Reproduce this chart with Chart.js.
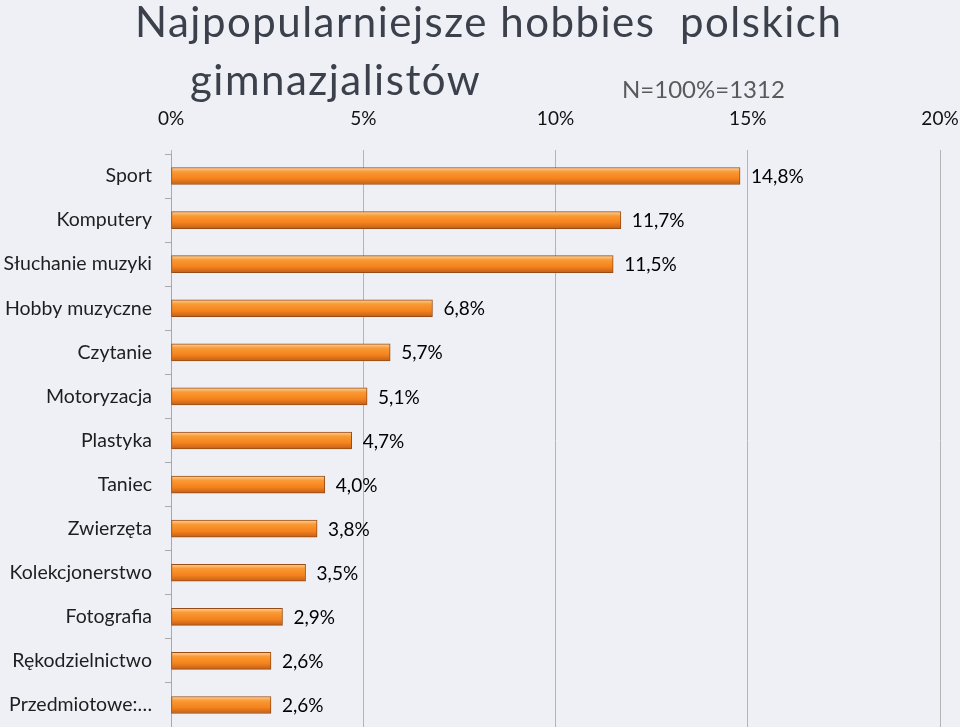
<!DOCTYPE html>
<html lang="pl">
<head>
<meta charset="UTF-8">
<title>Najpopularniejsze hobbies polskich gimnazjalistów</title>
<script src="https://cdn.jsdelivr.net/npm/chart.js"></script>
<style>
  body { margin: 0; background: #eef0f6; font-family: Lato, sans-serif; }
  #wrap { position: relative; width: 960px; height: 727px; overflow: hidden; }
  #chart { position: absolute; left: 0; top: 0; }
  .t { position: absolute; white-space: pre; color: #3b404b; font-size: 42px; letter-spacing: 1.5px; line-height: 1; }
  #t1 { left: 135px; top: 0px; }
  #t2 { left: 190px; top: 58px; }
  #note { position: absolute; left: 622px; top: 74px; font-size: 24px; color: #5a5a5a; white-space: pre; }
</style>
</head>
<body>
<div id="wrap">
  <canvas id="chart" width="960" height="727"></canvas>
  <div class="t" id="t1">Najpopularniejsze hobbies  polskich</div>
  <div class="t" id="t2">gimnazjalistów</div>
  <div id="note">N=100%=1312</div>
</div>

<script>
const categories = ['Sport', 'Komputery', 'Słuchanie muzyki', 'Hobby muzyczne', 'Czytanie',
  'Motoryzacja', 'Plastyka', 'Taniec', 'Zwierzęta', 'Kolekcjonerstwo', 'Fotografia',
  'Rękodzielnictwo', 'Przedmiotowe:…'];
const shares = [14.8, 11.7, 11.5, 6.8, 5.7, 5.1, 4.7, 4.0, 3.8, 3.5, 2.9, 2.6, 2.6];
const xTicks = [0, 5, 10, 15, 20];

const fmt = v => v.toFixed(1).replace('.', ',') + '%';

// value labels to the right of each bar
const barLabels = {
  id: 'barLabels',
  afterDatasetsDraw(chart) {
    const ctx = chart.ctx;
    ctx.save();
    ctx.font = '19px Lato';
    ctx.fillStyle = '#000';
    ctx.textAlign = 'left';
    ctx.textBaseline = 'middle';
    chart.getDatasetMeta(0).data.forEach((bar, i) => {
      ctx.fillText(fmt(shares[i]), bar.x + 11, bar.y + 1);
    });
    ctx.restore();
  }
};

function barFill(c) {
  const chart = c.chart;
  const y = chart.scales && chart.scales.y;
  if (!y || c.dataIndex === undefined) return '#f58220';
  const cy = y.getPixelForValue(c.dataIndex);
  if (!isFinite(cy)) return '#f58220';
  const g = chart.ctx.createLinearGradient(0, cy - 8.5, 0, cy + 8.5);
  g.addColorStop(0, '#fbd3a0');
  g.addColorStop(0.25, '#f99a34');
  g.addColorStop(0.65, '#f5821c');
  g.addColorStop(1, '#c0601a');
  return g;
}

new Chart(document.getElementById('chart'), {
  type: 'bar',
  data: {
    labels: categories,
    datasets: [{
      data: shares,
      backgroundColor: barFill,
      borderColor: '#9a4b14',
      borderWidth: 1,
      borderSkipped: false,
      barThickness: 17
    }]
  },
  options: {
    indexAxis: 'y',
    responsive: false,
    animation: false,
    devicePixelRatio: 1,
    layout: { padding: { top: 90, right: 20, bottom: 0, left: 0 } },
    plugins: { legend: { display: false }, tooltip: { enabled: false } },
    scales: {
      x: {
        position: 'top',
        min: 0,
        max: 20,
        afterBuildTicks: s => { s.ticks = xTicks.map(v => ({ value: v })); },
        afterFit: s => { s.height = 64; s.paddingLeft = 0; s.paddingRight = 0; },
        ticks: { callback: v => v + '%', color: '#111', font: { family: 'Lato', size: 19 }, padding: 20, maxRotation: 0 },
        grid: { color: '#b4b4b4', tickLength: 4 },
        border: { display: false }
      },
      y: {
        afterFit: s => { s.width = 171; s.paddingTop = 0; s.paddingBottom = 0; },
        ticks: { color: '#1e1e1e', font: { family: 'Lato', size: 19.5 }, padding: 13 },
        grid: { offset: true, drawOnChartArea: false, tickLength: 6, color: '#a8a8a8' },
        border: { color: '#a8a8a8' }
      }
    }
  },
  plugins: [barLabels]
});
</script>
</body>
</html>
